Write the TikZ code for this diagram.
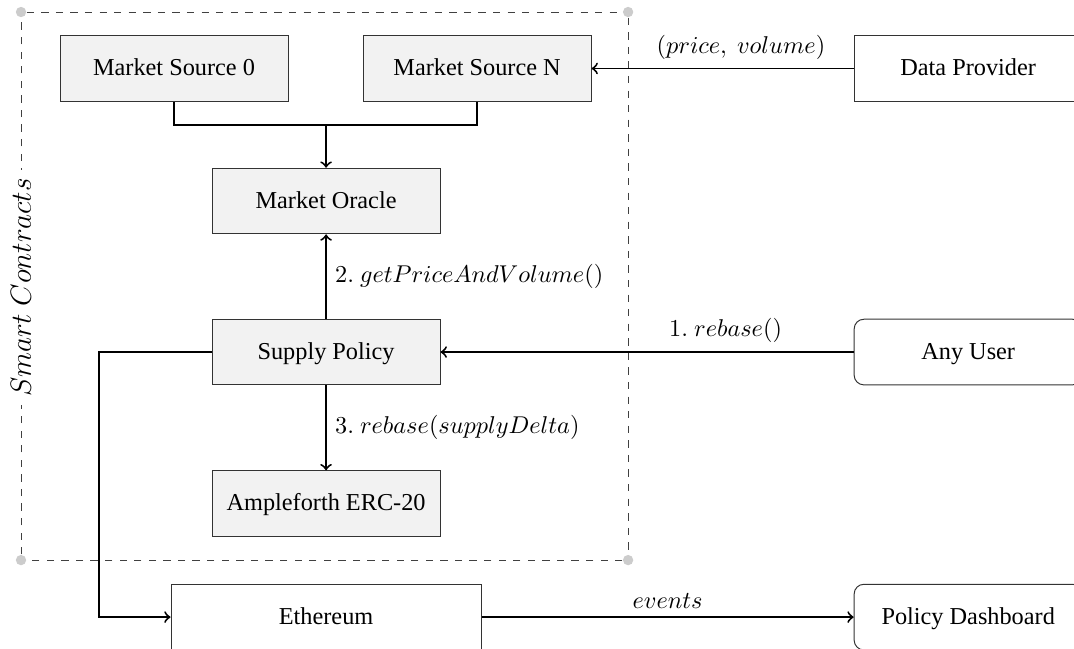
\documentclass[tikz,border=0pt]{standalone}
\usepackage[no-math]{fontspec}
\setmainfont{Liberation Serif}
\tikzset{
    box/.style={rectangle, draw=black!80, minimum width=3.3cm, minimum height=0.95cm, inner sep=0cm, text height=1.5ex, text depth=0.25ex},
    contract/.style={box, fill=gray!10},
    extern/.style={box, fill=white},
    client/.style={box, fill=white, rounded corners},
    corner/.style={circle, fill=black!20, inner sep=0cm, minimum size=0.15cm},
}
\begin{document}
\begin{tikzpicture}
\useasboundingbox (0,0) rectangle (15.54,-9.39);
% frame of the smart contracts
\begin{scope}[every node/.style={corner}]
    \node (c1) at (0.304,-0.174) {};
    \node (c2) at (9.088,-0.174) {};
    \node (c3) at (9.088,-8.104) {};
    \node (c4) at (0.304,-8.104) {};
\end{scope}
\draw[dashed, black!75] (c1) -- (c2) -- (c3) -- (c4) -- (c1);
\node[fill=white, rotate=90, inner sep=0.12cm] (sc) at (0.304,-4.16) {\large $Smart\ Contracts$};
% boxes
\node[contract] (ms0) at (2.518,-0.991) {Market Source 0};
\node[contract] (msN) at (6.903,-0.991) {Market Source N};
\node[contract] (oracle) at (4.718,-2.909) {Market Oracle};
\node[contract] (policy) at (4.718,-5.094) {Supply Policy};
\node[contract] (token) at (4.718,-7.287) {Ampleforth ERC-20};
\node[extern, minimum width=4.486cm] (eth) at (4.718,-8.929) {Ethereum};
\node[extern] (provider) at (14.009,-0.991) {Data Provider};
\node[client] (user) at (14.009,-5.094) {Any User};
\node[client] (dash) at (14.009,-8.929) {Policy Dashboard};
\coordinate (merge) at (4.718,-1.809);
\coordinate (ethbus) at (1.433,-8.929);
% connectors
\draw[thick] (ms0.south) |- (merge) -| (msN.south);
\draw[thick, ->] (policy.west) -| (ethbus) -- (eth.west);
\begin{scope}[every edge/.style={draw=black, thick, ->}]
    \path (merge) edge (oracle);
    \path (provider) edge node[above, pos=0.43] {$(price,\ volume)$} (msN);
    \path (user) edge node[above, pos=0.31] {$1.\ rebase()$} (policy);
    \path (policy) edge node[right] {$2.\ getPriceAndVolume()$} (oracle);
    \path (policy) edge node[right] {$3.\ rebase(supplyDelta)$} (token);
    \path (eth) edge node[above] {$events$} (dash);
\end{scope}
\end{tikzpicture}
\end{document}
